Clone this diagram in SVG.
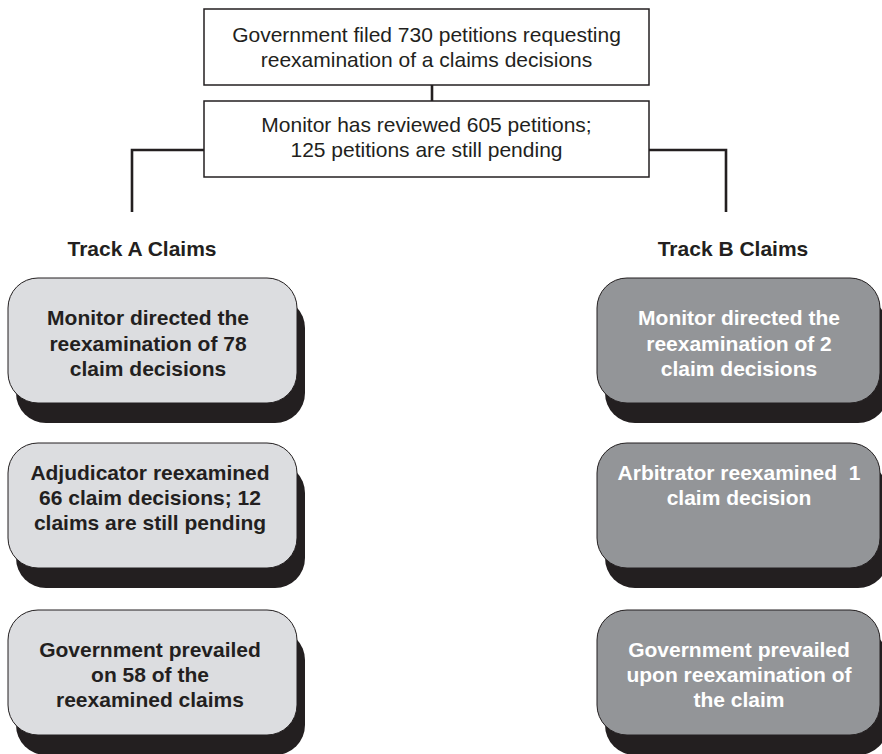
<svg xmlns="http://www.w3.org/2000/svg" width="882" height="754" viewBox="0 0 882 754">
<style>
.bg{fill:#ffffff}
.top{fill:#ffffff;stroke:#231f20;stroke-width:1.5}
.conn{fill:none;stroke:#231f20;stroke-width:2.6}
.shadow{fill:#231f20}
.boxA{fill:#dcdde0;stroke:#231f20;stroke-width:1}
.boxB{fill:#939598;stroke:#231f20;stroke-width:1}
.t{font-family:"Liberation Sans",Arial,sans-serif;font-size:21px;text-anchor:middle;fill:#231f20}
.b{font-family:"Liberation Sans",Arial,sans-serif;font-size:21px;font-weight:bold;text-anchor:middle}
.dark{fill:#231f20}
.light{fill:#ffffff}
</style>
<rect class="bg" x="0" y="0" width="882" height="754"/>
<g id="connectors">
<line class="conn" x1="432" y1="85" x2="432" y2="101"/>
<polyline class="conn" points="204,150 132,150 132,212"/>
<polyline class="conn" points="649,150 726,150 726,212"/>
</g>
<g id="n-filed">
<rect class="top" x="204" y="9" width="445" height="76"/>
<text class="t" x="426.5" y="42">Government filed 730 petitions requesting</text>
<text class="t" x="426.5" y="67">reexamination of a claims decisions</text>
</g>
<g id="n-reviewed">
<rect class="top" x="204" y="101" width="445" height="76"/>
<text class="t" x="426.5" y="132">Monitor has reviewed 605 petitions;</text>
<text class="t" x="426.5" y="157">125 petitions are still pending</text>
</g>
<g id="label-a"><text class="b dark" x="142" y="256">Track A Claims</text></g>
<g id="label-b"><text class="b dark" x="733" y="256">Track B Claims</text></g>
<g id="a1">
<rect class="shadow" x="16" y="298" width="289" height="125" rx="30"/>
<rect class="boxA" x="8" y="278" width="289" height="125" rx="30"/>
<text class="b dark" x="148" y="325">Monitor directed the</text>
<text class="b dark" x="148" y="350.5">reexamination of 78</text>
<text class="b dark" x="148" y="376">claim decisions</text>
</g>
<g id="a2">
<rect class="shadow" x="16" y="463" width="289" height="125" rx="30"/>
<rect class="boxA" x="8" y="443" width="289" height="125" rx="30"/>
<text class="b dark" x="150" y="480">Adjudicator reexamined</text>
<text class="b dark" x="150" y="505">66 claim decisions; 12</text>
<text class="b dark" x="150" y="530">claims are still pending</text>
</g>
<g id="a3">
<rect class="shadow" x="16" y="630" width="289" height="125" rx="30"/>
<rect class="boxA" x="8" y="610" width="289" height="125" rx="30"/>
<text class="b dark" x="150" y="657">Government prevailed</text>
<text class="b dark" x="150" y="682">on 58 of the</text>
<text class="b dark" x="150" y="707">reexamined claims</text>
</g>
<g id="b1">
<rect class="shadow" x="605" y="298" width="283" height="125" rx="30"/>
<rect class="boxB" x="597" y="278" width="283" height="125" rx="30"/>
<text class="b light" x="739" y="325">Monitor directed the</text>
<text class="b light" x="739" y="350.5">reexamination of 2</text>
<text class="b light" x="739" y="376">claim decisions</text>
</g>
<g id="b2">
<rect class="shadow" x="605" y="463" width="283" height="125" rx="30"/>
<rect class="boxB" x="597" y="443" width="283" height="125" rx="30"/>
<text class="b light" x="739" y="480" xml:space="preserve">Arbitrator reexamined  1</text>
<text class="b light" x="739" y="505">claim decision</text>
</g>
<g id="b3">
<rect class="shadow" x="605" y="630" width="283" height="125" rx="30"/>
<rect class="boxB" x="597" y="610" width="283" height="125" rx="30"/>
<text class="b light" x="739" y="657">Government prevailed</text>
<text class="b light" x="739" y="682">upon reexamination of</text>
<text class="b light" x="739" y="707">the claim</text>
</g>
</svg>
